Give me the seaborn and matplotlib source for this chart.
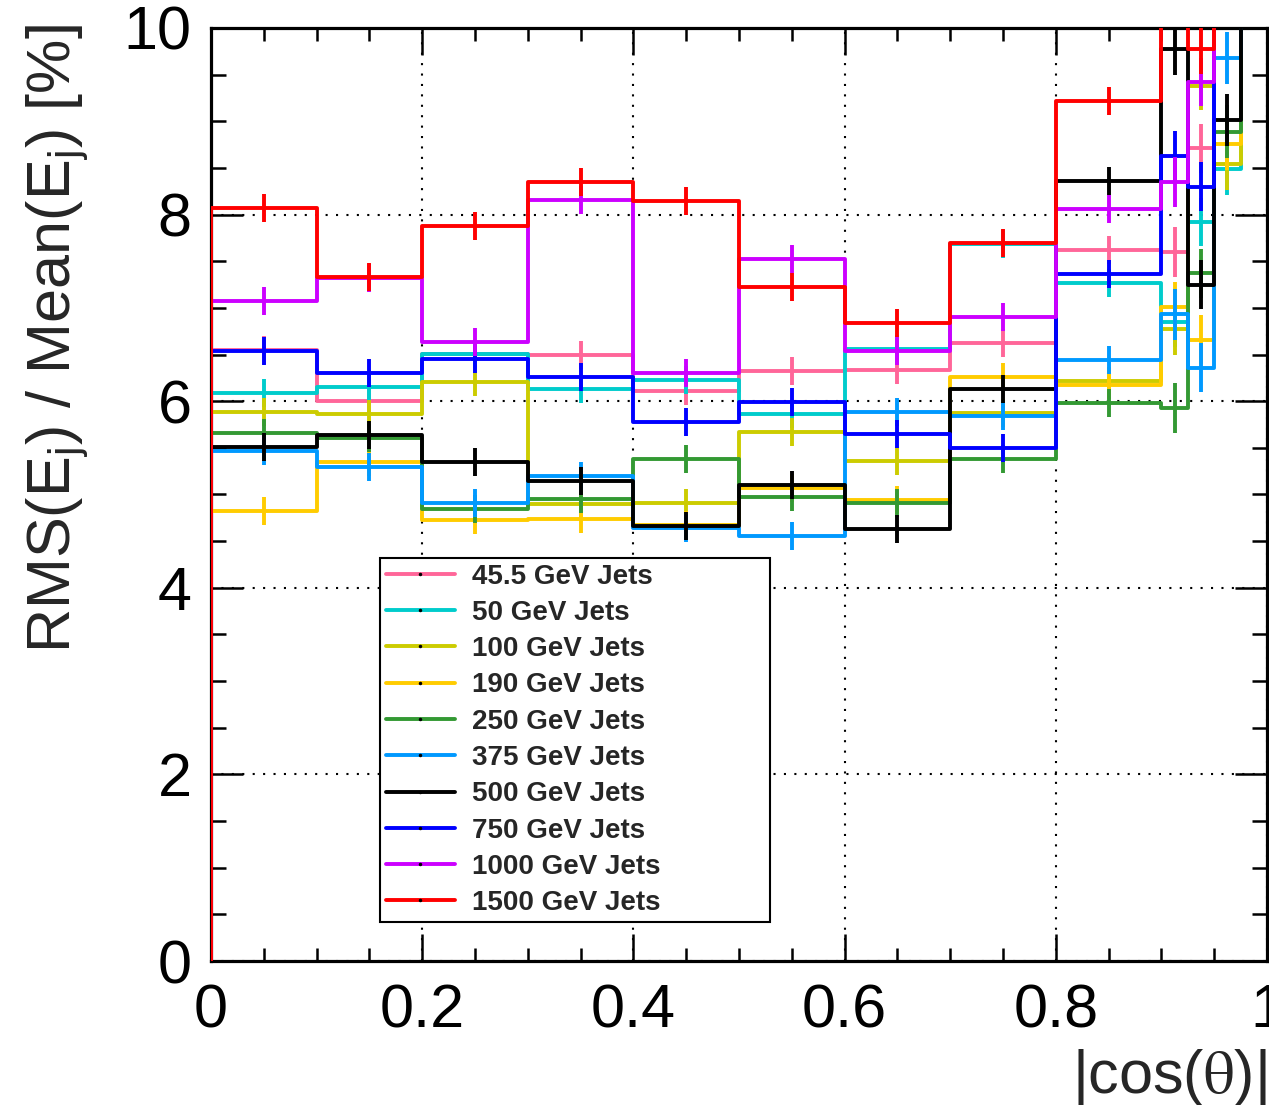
import numpy as np
import pandas as pd
import matplotlib
matplotlib.use("Agg")
import matplotlib.pyplot as plt
import seaborn as sns
from matplotlib.lines import Line2D

# ---------------- data ----------------
bin_edges = [0.0, 0.1, 0.2, 0.3, 0.4, 0.5, 0.6, 0.7, 0.8, 0.9, 0.925, 0.95, 0.975, 1.0]

series_labels = ["45.5 GeV Jets", "50 GeV Jets", "100 GeV Jets", "190 GeV Jets",
                 "250 GeV Jets", "375 GeV Jets", "500 GeV Jets", "750 GeV Jets",
                 "1000 GeV Jets", "1500 GeV Jets"]
series_colors = ["#ff6699", "#00cccc", "#cccc00", "#ffcc00", "#339933",
                 "#0099ff", "#000000", "#0000ff", "#cc00ff", "#ff0000"]

# RMS/Mean [%] per bin (values above 10 are off scale)
rms_45p5 = [6.55, 6.00, 6.51, 6.50, 6.11, 6.32, 6.33, 6.62, 7.62, 7.60, 8.71, 11.0, 11.0]
rms_50   = [6.09, 6.15, 6.51, 6.13, 6.23, 5.86, 6.56, 7.68, 7.27, 6.85, 7.92, 8.49, 11.0]
rms_100  = [5.88, 5.86, 6.21, 4.90, 4.91, 5.67, 5.36, 5.87, 6.22, 6.77, 9.38, 8.54, 11.0]
rms_190  = [4.82, 5.35, 4.73, 4.74, 4.67, 5.07, 4.94, 6.26, 6.17, 7.01, 6.66, 8.76, 11.0]
rms_250  = [5.66, 5.61, 4.84, 4.95, 5.38, 4.97, 4.91, 5.38, 5.98, 5.93, 7.37, 8.89, 11.0]
rms_375  = [5.47, 5.30, 4.91, 5.20, 4.64, 4.56, 5.88, 5.84, 6.44, 6.93, 6.36, 9.68, 11.0]
rms_500  = [5.51, 5.64, 5.35, 5.14, 4.66, 5.10, 4.63, 6.13, 8.36, 9.77, 7.25, 9.01, 11.0]
rms_750  = [6.54, 6.30, 6.45, 6.26, 5.78, 5.99, 5.65, 5.50, 7.36, 8.63, 8.30, 11.0, 11.0]
rms_1000 = [7.07, 7.32, 6.63, 8.16, 6.30, 7.52, 6.54, 6.90, 8.06, 8.35, 9.42, 11.0, 11.0]
rms_1500 = [8.07, 7.33, 7.88, 8.35, 8.15, 7.22, 6.84, 7.70, 9.22, 11.0, 9.77, 11.0, 11.0]

err_halfwidth = [0.15, 0.15, 0.15, 0.15, 0.15, 0.15, 0.15, 0.15, 0.15, 0.27, 0.26, 0.28, 0.30]

all_series = [rms_45p5, rms_50, rms_100, rms_190, rms_250,
              rms_375, rms_500, rms_750, rms_1000, rms_1500]

x_tick_values = [0.0, 0.2, 0.4, 0.6, 0.8, 1.0]
x_tick_labels = ["0", "0.2", "0.4", "0.6", "0.8", "1"]
y_tick_values = [0, 2, 4, 6, 8, 10]
y_tick_labels = ["0", "2", "4", "6", "8", "10"]

# ---------------- style ----------------
sns.set_style("ticks")
plt.rcParams["font.family"] = ["Liberation Sans", "DejaVu Sans"]
plt.rcParams["mathtext.fontset"] = "custom"
plt.rcParams["mathtext.rm"] = "Liberation Sans"
plt.rcParams["mathtext.it"] = "Liberation Sans:italic"
plt.rcParams["mathtext.bf"] = "Liberation Sans:bold"

W, H = 1269, 1105
fig = plt.figure(figsize=(W / 100, H / 100), dpi=100)
ax = fig.add_axes([211 / W, 1 - 961 / H, (1267 - 211) / W, (961 - 28) / H])

centers = [(a + b) / 2 for a, b in zip(bin_edges[:-1], bin_edges[1:])]
LW = 2.8

rows = []
for lab, vals in zip(series_labels, all_series):
    xs = [bin_edges[0]] + list(bin_edges)
    ys = [0.0] + list(vals) + [vals[-1]]
    for k, (xx, yy) in enumerate(zip(xs, ys)):
        rows.append({"series": lab, "order": k, "x": xx, "y": yy})
df = pd.DataFrame(rows)

for i, (lab, col, vals) in enumerate(zip(series_labels, series_colors, all_series)):
    sub = df[df["series"] == lab].sort_values("order")
    sns.lineplot(data=sub, x="x", y="y", ax=ax, color=col, lw=LW,
                 drawstyle="steps-post", estimator=None, sort=False,
                 zorder=3 + i, legend=False)
    ax.errorbar(centers, vals, yerr=err_halfwidth, fmt="none", ecolor=col,
                elinewidth=LW, capsize=0, zorder=3 + i)

ax.set_xlim(0, 1)
ax.set_ylim(0, 10)
ax.set_xlabel("")
ax.set_ylabel("")

ax.set_xticks(x_tick_values)
ax.set_xticklabels(x_tick_labels)
ax.set_xticks(np.arange(0, 1.0001, 0.05), minor=True)
ax.set_yticks(y_tick_values)
ax.set_yticklabels(y_tick_labels)
ax.set_yticks(np.arange(0, 10.0001, 0.5), minor=True)

ax.tick_params(axis="both", which="both", direction="in", top=True, right=True,
               colors="black", width=1.8)
ax.tick_params(axis="x", which="major", length=19.5, labelsize=44, pad=16)
ax.tick_params(axis="x", which="minor", length=9.5)
ax.tick_params(axis="y", which="major", length=23, labelsize=44, pad=14)
ax.tick_params(axis="y", which="minor", length=10.5)

for s in ax.spines.values():
    s.set_linewidth(2.3)
    s.set_color("black")

ax.grid(True, which="major", color="black", linestyle=(0, (1, 4)), lw=1.5)
ax.set_axisbelow(True)

# axis titles
fig.text(58 / W, 1 - 24 / H, r"RMS(E$_{\mathrm{j}}$) / Mean(E$_{\mathrm{j}}$) [%]",
         rotation=90, ha="center", va="top", fontsize=44)
fig.text(1 - 2 / W, 1 - 1093 / H, r"|cos($\mathrm{\theta}$)|", ha="right", va="baseline",
         fontsize=44, math_fontfamily="stix")

# legend
handles = [Line2D([], [], color=c, lw=LW, marker=".", markersize=3,
                  markerfacecolor="black", markeredgecolor="black")
           for c in series_colors]
leg = fig.legend(handles, series_labels, loc="upper left",
                 bbox_to_anchor=(380 / W, 1 - 921 / H, (770 - 380) / W, (921 - 558) / H),
                 mode="expand", prop={"weight": "bold", "size": 20},
                 frameon=True, fancybox=False, edgecolor="black", facecolor="white",
                 framealpha=1, handlelength=2.5, handletextpad=0.6,
                 labelspacing=0.37, borderpad=0.2, borderaxespad=0, numpoints=1)
leg.get_frame().set_linewidth(1.5)

fig.savefig("out.png", dpi=100)
